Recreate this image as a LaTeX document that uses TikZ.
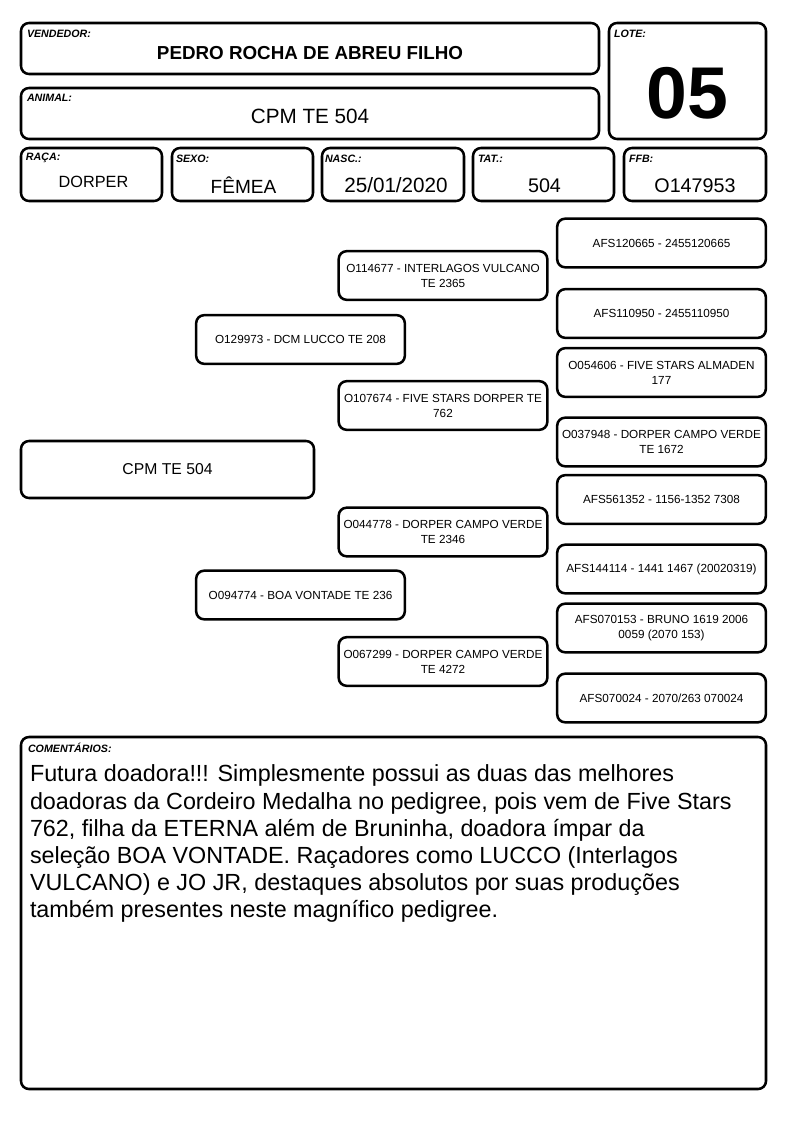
\documentclass[tikz,border=0pt]{standalone}
\usepackage{fontspec}
\setmainfont{Liberation Sans}
\usetikzlibrary{positioning}

\tikzset{
  caixa/.style={draw, line width=1.9pt, rounded corners=6pt, inner sep=0pt},
  rotulo/.style={font=\fontsize{8}{9}\selectfont\bfseries\itshape, anchor=north west, inner sep=0pt},
  campo/.style={caixa, minimum width=105.75pt, minimum height=39.75pt},
  valor/.style={font=\fontsize{14.8}{16}\selectfont, inner sep=0pt},
  ped/.style={caixa, minimum width=156.5pt, minimum height=36.5pt, align=center,
    font=\fontsize{8.8}{11.25}\selectfont},
}

\begin{document}
\begin{tikzpicture}[x=0.75pt, y=-0.75pt]
  \useasboundingbox (0,0) rectangle (794,1123);

  % cabecalho
  \node[caixa, minimum width=433.5pt, minimum height=38.25pt] (vendedor) at (310,48.5) {};
  \node[rotulo] (lblvendedor) at ([shift={(7,8)}]vendedor.north west) {VENDEDOR:};
  \node[font=\fontsize{14.1}{16}\selectfont\bfseries, inner sep=0pt] (nomevendedor)
    at ([shift={(0,5)}]vendedor.center) {PEDRO ROCHA DE ABREU FILHO};

  \node[caixa, minimum width=433.5pt, minimum height=38.25pt] (animal) at (310,113.5) {};
  \node[rotulo] (lblanimal) at ([shift={(7,7)}]animal.north west) {ANIMAL:};
  \node[font=\fontsize{15.5}{17}\selectfont, inner sep=0pt] (nomeanimal)
    at ([shift={(0,3)}]animal.center) {CPM TE 504};

  \node[caixa, minimum width=117.75pt, minimum height=87pt] (lote) at (687.5,81) {};
  \node[rotulo] (lbllote) at ([shift={(6,8)}]lote.north west) {LOTE:};
  \node[font=\fontsize{55}{58}\selectfont\bfseries, inner sep=0pt] (numlote)
    at ([shift={(0,12)}]lote.center) {05};

  \node[campo] (raca) at (91.5,174.5) {};
  \node[rotulo] (lblraca) at ([shift={(6,6)}]raca.north west) {RAÇA:};
  \node[valor, font=\fontsize{12.2}{14}\selectfont] (valraca) at ([shift={(2,7)}]raca.center) {DORPER};

  \node[campo] (sexo) at (242.5,174.5) {};
  \node[rotulo] (lblsexo) at ([shift={(5,8)}]sexo.north west) {SEXO:};
  \node[valor, font=\fontsize{14.3}{16}\selectfont] (valsexo) at ([shift={(1,11)}]sexo.center) {FÊMEA};

  \node[campo, minimum width=106.5pt] (nasc) at (393,174.5) {};
  \node[rotulo] (lblnasc) at ([shift={(4,8)}]nasc.north west) {NASC.:};
  \node[valor, font=\fontsize{15.5}{17}\selectfont] (valnasc) at ([shift={(3,11)}]nasc.center) {25/01/2020};

  \node[campo] (tat) at (543.5,174.5) {};
  \node[rotulo] (lbltat) at ([shift={(6,8)}]tat.north west) {TAT.:};
  \node[valor] (valtat) at ([shift={(1,11)}]tat.center) {504};

  \node[campo, minimum width=106.5pt] (ffb) at (695,174.5) {};
  \node[rotulo] (lblffb) at ([shift={(6,8)}]ffb.north west) {FFB:};
  \node[valor] (valffb) at ([shift={(0,11)}]ffb.center) {O147953};

  % genealogia
  \node[caixa, minimum width=219.75pt, minimum height=42.75pt,
    font=\fontsize{11.8}{13}\selectfont] (produto) at (167.5,469.5) {CPM TE 504};

  \node[ped] (pai) at (300.5,339.5) {O129973 - DCM LUCCO TE 208};
  \node[ped] (mae) at (300.5,595) {O094774 - BOA VONTADE TE 236};

  \node[ped] (avopp) at (443,275.5) {O114677 - INTERLAGOS VULCANO\\TE 2365};
  \node[ped] (avopm) at (443,405.5) {O107674 - FIVE STARS DORPER TE\\762};
  \node[ped] (avomp) at (443,532) {O044778 - DORPER CAMPO VERDE\\TE 2346};
  \node[ped] (avomm) at (443,661.5) {O067299 - DORPER CAMPO VERDE\\TE 4272};

  \node[ped] (bisa1) at (661.5,243) {AFS120665 - 2455120665};
  \node[ped] (bisa2) at (661.5,313.5) {AFS110950 - 2455110950};
  \node[ped] (bisa3) at (661.5,372.5) {O054606 - FIVE STARS ALMADEN\\177};
  \node[ped] (bisa4) at (661.5,442) {O037948 - DORPER CAMPO VERDE\\TE 1672};
  \node[ped] (bisa5) at (661.5,499.5) {AFS561352 - 1156-1352 7308};
  \node[ped] (bisa6) at (661.5,569) {AFS144114 - 1441 1467 (20020319)};
  \node[ped] (bisa7) at (661.5,628) {AFS070153 - BRUNO 1619 2006\\0059 (2070 153)};
  \node[ped] (bisa8) at (661.5,698) {AFS070024 - 2070/263 070024};

  % comentarios
  \node[caixa, minimum width=558.75pt, minimum height=264pt] (comentarios) at (393.5,913) {};
  \node[rotulo] (lblcomentarios) at ([shift={(8,7)}]comentarios.north west) {COMENTÁRIOS:};
  \node[anchor=north west, inner sep=0pt, align=left,
    font=\fontsize{17.5}{20.4}\selectfont] (textocomentarios)
    at ([shift={(10,29)}]comentarios.north west)
    {Futura doadora!!! Simplesmente possui as duas das melhores\\
     doadoras da Cordeiro Medalha no pedigree, pois vem de Five Stars\\
     762, filha da ETERNA além de Bruninha, doadora ímpar da\\
     seleção BOA VONTADE. Raçadores como LUCCO (Interlagos\\
     VULCANO) e JO JR, destaques absolutos por suas produções\\
     também presentes neste magnífico pedigree.};
\end{tikzpicture}
\end{document}
